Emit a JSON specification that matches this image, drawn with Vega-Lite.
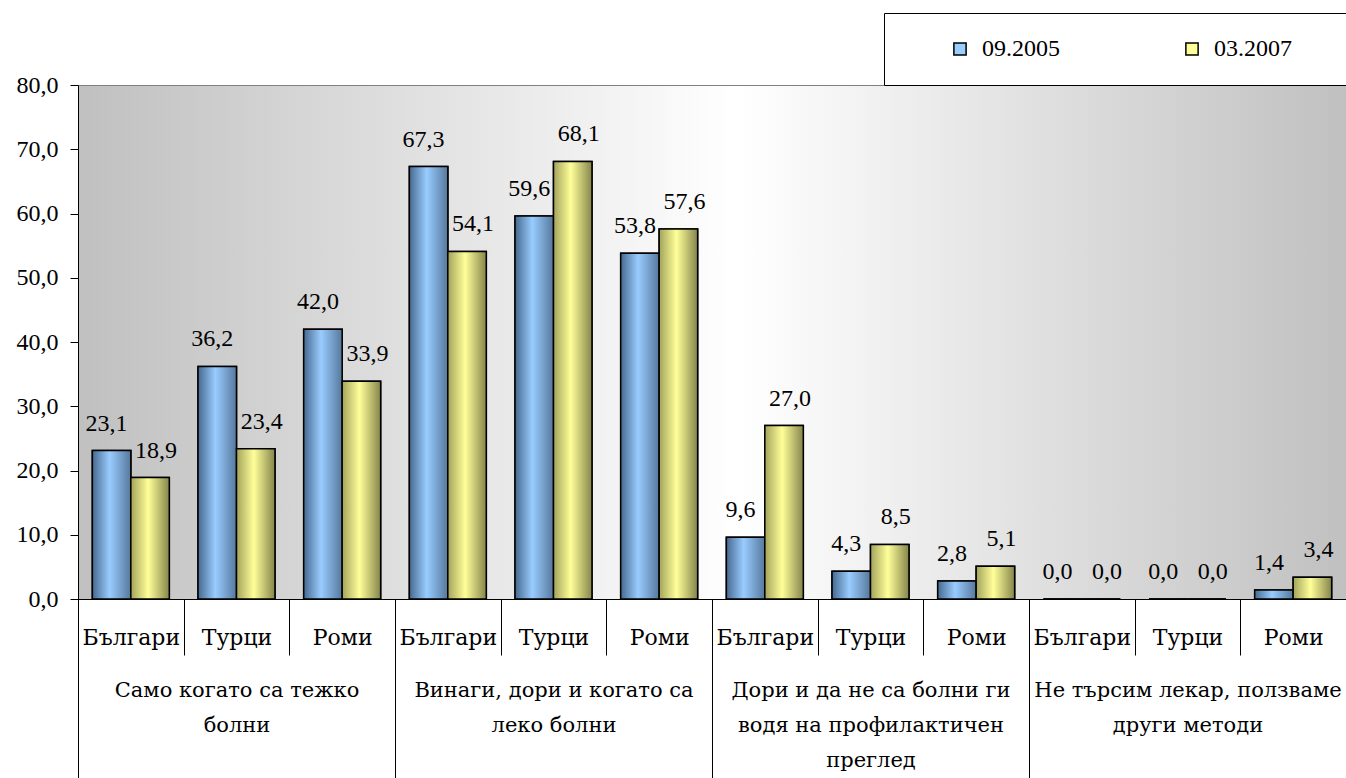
{
  "$schema": "https://vega.github.io/schema/vega-lite/v6.json",
  "autosize": {"type": "none"},
  "padding": {"left": 78, "top": 85, "right": 0, "bottom": 179},
  "width": 1268,
  "height": 514,
  "background": "white",
  "config": {
    "locale": {"number": {"decimal": ",", "thousands": " ", "grouping": [3], "currency": ["", ""]}},
    "font": "Liberation Serif",
    "view": {
      "stroke": "#808080",
      "strokeWidth": 1,
      "fill": {
        "gradient": "linear", "x1": 0, "y1": 0, "x2": 1, "y2": 0,
        "stops": [
          {"offset": 0, "color": "#c0c0c0"},
          {"offset": 0.52, "color": "#ffffff"},
          {"offset": 1, "color": "#c0c0c0"}
        ]
      }
    },
    "axis": {"labelFont": "Liberation Serif", "labelFontSize": 24, "labelColor": "black", "domainColor": "black", "tickColor": "black", "titleFont": "Liberation Serif"}
  },
  "datasets": {
    "bars": [
      {"group": "Само когато са тежко болни", "key": "1|Българи", "series": "09.2005", "value": 23.1},
      {"group": "Само когато са тежко болни", "key": "1|Българи", "series": "03.2007", "value": 18.9},
      {"group": "Само когато са тежко болни", "key": "1|Турци", "series": "09.2005", "value": 36.2},
      {"group": "Само когато са тежко болни", "key": "1|Турци", "series": "03.2007", "value": 23.4},
      {"group": "Само когато са тежко болни", "key": "1|Роми", "series": "09.2005", "value": 42.0},
      {"group": "Само когато са тежко болни", "key": "1|Роми", "series": "03.2007", "value": 33.9},
      {"group": "Винаги, дори и когато са леко болни", "key": "2|Българи", "series": "09.2005", "value": 67.3},
      {"group": "Винаги, дори и когато са леко болни", "key": "2|Българи", "series": "03.2007", "value": 54.1},
      {"group": "Винаги, дори и когато са леко болни", "key": "2|Турци", "series": "09.2005", "value": 59.6},
      {"group": "Винаги, дори и когато са леко болни", "key": "2|Турци", "series": "03.2007", "value": 68.1},
      {"group": "Винаги, дори и когато са леко болни", "key": "2|Роми", "series": "09.2005", "value": 53.8},
      {"group": "Винаги, дори и когато са леко болни", "key": "2|Роми", "series": "03.2007", "value": 57.6},
      {"group": "Дори и да не са болни ги водя на профилактичен преглед", "key": "3|Българи", "series": "09.2005", "value": 9.6},
      {"group": "Дори и да не са болни ги водя на профилактичен преглед", "key": "3|Българи", "series": "03.2007", "value": 27.0},
      {"group": "Дори и да не са болни ги водя на профилактичен преглед", "key": "3|Турци", "series": "09.2005", "value": 4.3},
      {"group": "Дори и да не са болни ги водя на профилактичен преглед", "key": "3|Турци", "series": "03.2007", "value": 8.5},
      {"group": "Дори и да не са болни ги водя на профилактичен преглед", "key": "3|Роми", "series": "09.2005", "value": 2.8},
      {"group": "Дори и да не са болни ги водя на профилактичен преглед", "key": "3|Роми", "series": "03.2007", "value": 5.1},
      {"group": "Не търсим лекар, ползваме други методи", "key": "4|Българи", "series": "09.2005", "value": 0.0},
      {"group": "Не търсим лекар, ползваме други методи", "key": "4|Българи", "series": "03.2007", "value": 0.0},
      {"group": "Не търсим лекар, ползваме други методи", "key": "4|Турци", "series": "09.2005", "value": 0.0},
      {"group": "Не търсим лекар, ползваме други методи", "key": "4|Турци", "series": "03.2007", "value": 0.0},
      {"group": "Не търсим лекар, ползваме други методи", "key": "4|Роми", "series": "09.2005", "value": 1.4},
      {"group": "Не търсим лекар, ползваме други методи", "key": "4|Роми", "series": "03.2007", "value": 3.4}
    ]
  },
  "data": {"name": "bars"},
  "layer": [
    {
      "layer": [
        {
          "mark": {"type": "bar", "stroke": "black", "strokeWidth": 1.5},
          "encoding": {
            "x": {"field": "key", "type": "nominal", "sort": null,
              "scale": {"paddingInner": 0, "paddingOuter": 0},
              "axis": {"title": null, "labelAngle": 0, "tickBand": "extent", "tickSize": 56, "labelPadding": -28, "labelBaseline": "top",
                "labelFont": "DejaVu Serif", "labelFontSize": 22,
                "labelExpr": "split(datum.label, '|')[1]", "domain": true, "domainColor": "black"}},
            "xOffset": {"field": "series", "type": "nominal", "sort": ["09.2005", "03.2007"], "scale": {"paddingInner": 0, "paddingOuter": 0.373}},
            "y": {"field": "value", "type": "quantitative",
              "scale": {"domain": [0, 80], "nice": false},
              "axis": {"title": null, "values": [0, 10, 20, 30, 40, 50, 60, 70, 80], "format": ".1f", "grid": false, "tickSize": 8, "labelPadding": 12, "domainColor": "black"}},
            "color": {"field": "series", "type": "nominal", "sort": ["09.2005", "03.2007"],
              "scale": {"domain": ["09.2005", "03.2007"], "range": ["#99ccff", "#ffff99"]},
              "legend": {"title": " ", "titleOrient": "left", "titlePadding": 40, "orient": "none", "legendX": 806, "legendY": -72,
                "direction": "horizontal", "padding": 24, "columnPadding": 120, "fillColor": "white", "strokeColor": "black",
                "symbolType": "square", "symbolSize": 150, "symbolStrokeColor": "black", "symbolStrokeWidth": 1.5,
                "labelFont": "Liberation Serif", "labelFontSize": 24, "labelColor": "black", "labelOffset": 10, "labelLimit": 300,
                "labelExpr": "datum.label == '03.2007' ? datum.label + '\u2800\u2800\u2800\u2800' : datum.label"}}
          }
        },
        {
          "mark": {"type": "bar", "stroke": "black", "strokeWidth": 1.5},
          "encoding": {
            "x": {"field": "key", "type": "nominal", "sort": null},
            "xOffset": {"field": "series", "type": "nominal", "sort": ["09.2005", "03.2007"]},
            "y": {"field": "value", "type": "quantitative"},
            "color": {
              "condition": {"test": "datum.series == '09.2005'", "value": {
                "gradient": "linear", "x1": 0, "y1": 0, "x2": 1, "y2": 0,
                "stops": [{"offset": 0, "color": "#46698f"}, {"offset": 0.45, "color": "#99ccff"}, {"offset": 1, "color": "#56789c"}]}},
              "value": {
                "gradient": "linear", "x1": 0, "y1": 0, "x2": 1, "y2": 0,
                "stops": [{"offset": 0, "color": "#a3a35c"}, {"offset": 0.45, "color": "#ffff99"}, {"offset": 1, "color": "#85854c"}]}
            }
          }
        },
        {
          "transform": [{"filter": "datum.series == '09.2005'"}],
          "mark": {"type": "text", "baseline": "alphabetic", "dy": -20, "dx": -5, "fontSize": 24, "font": "Liberation Serif", "color": "black"},
          "encoding": {
            "x": {"field": "key", "type": "nominal", "sort": null},
            "xOffset": {"field": "series", "type": "nominal", "sort": ["09.2005", "03.2007"]},
            "y": {"field": "value", "type": "quantitative"},
            "text": {"field": "value", "type": "quantitative", "format": ".1f"}
          }
        },
        {
          "transform": [{"filter": "datum.series == '03.2007'"}],
          "mark": {"type": "text", "baseline": "alphabetic", "dy": -20, "dx": 6, "fontSize": 24, "font": "Liberation Serif", "color": "black"},
          "encoding": {
            "x": {"field": "key", "type": "nominal", "sort": null},
            "xOffset": {"field": "series", "type": "nominal", "sort": ["09.2005", "03.2007"]},
            "y": {"field": "value", "type": "quantitative"},
            "text": {"field": "value", "type": "quantitative", "format": ".1f"}
          }
        }
      ]
    },
    {
      "mark": {"type": "point", "opacity": 0},
      "encoding": {
        "x": {"field": "group", "type": "nominal", "sort": null,
          "scale": {"paddingInner": 0, "paddingOuter": 0},
          "axis": {"orient": "bottom", "title": null, "labelAngle": 0, "tickBand": "extent", "tickSize": 180, "labelPadding": -100, "labelBaseline": "top",
            "labelFont": "DejaVu Serif", "labelFontSize": 21,
            "labelLineHeight": 35, "labelLimit": 400,
            "labelExpr": "datum.value == 'Само когато са тежко болни' ? ['Само когато са тежко', 'болни'] : datum.value == 'Винаги, дори и когато са леко болни' ? ['Винаги, дори и когато са', 'леко болни'] : datum.value == 'Дори и да не са болни ги водя на профилактичен преглед' ? ['Дори и да не са болни ги', 'водя на профилактичен', 'преглед'] : datum.value == 'Не търсим лекар, ползваме други методи' ? ['Не търсим лекар, ползваме', 'други методи'] : ''"}}
      }
    }
  ],
  "resolve": {"scale": {"x": "independent"}, "axis": {"x": "independent"}}
}
